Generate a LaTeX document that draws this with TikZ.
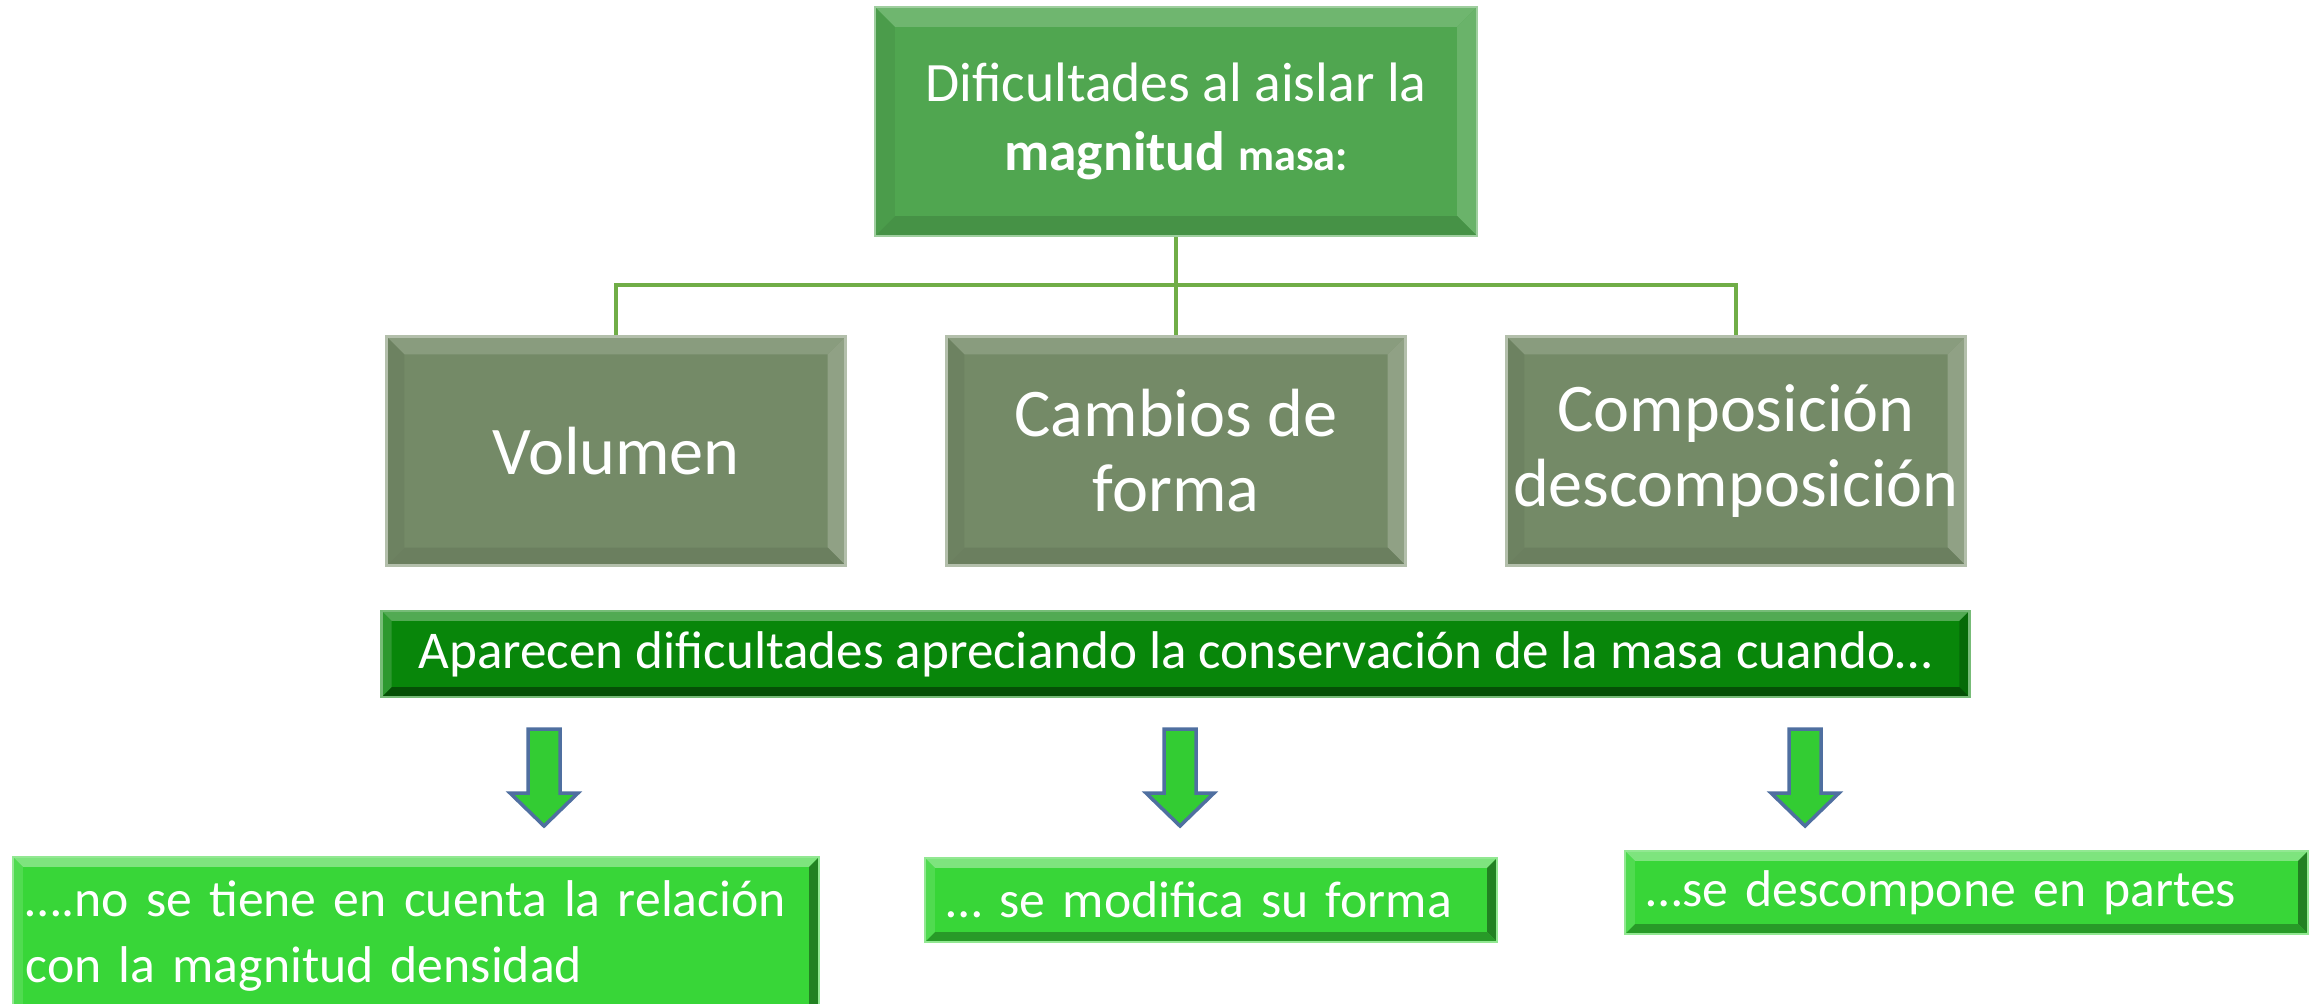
\documentclass[tikz,border=0pt]{standalone}
\usepackage{fontspec}
\setmainfont{Carlito}
\usetikzlibrary{calc,positioning}

\definecolor{topgreen}{RGB}{80,166,80}
\definecolor{midgreen}{RGB}{116,138,103}
\definecolor{bandgreen}{RGB}{8,134,10}
\definecolor{limegreen}{RGB}{56,214,56}
\definecolor{arrowfill}{RGB}{51,204,51}
\definecolor{arrowline}{RGB}{79,111,160}
\definecolor{linkgreen}{RGB}{112,173,71}

\begin{document}
\begin{tikzpicture}[x=0.01cm, y=-0.01cm,
    box/.style={inner sep=0pt, text=white, align=center, fill=#1, draw=#1!55!white, line width=0.7pt},
    % bevelled edges under the text: depth, top, right, bottom, left
    bevel/.style n args={5}{path picture={
      \coordinate (nw) at (path picture bounding box.north west);
      \coordinate (ne) at (path picture bounding box.north east);
      \coordinate (se) at (path picture bounding box.south east);
      \coordinate (sw) at (path picture bounding box.south west);
      \fill[#2] (nw) -- (ne) -- ($(ne)+(-#1,-#1)$) -- ($(nw)+(#1,-#1)$) -- cycle;
      \fill[#3] (ne) -- (se) -- ($(se)+(-#1,#1)$) -- ($(ne)+(-#1,-#1)$) -- cycle;
      \fill[#4] (se) -- (sw) -- ($(sw)+(#1,#1)$) -- ($(se)+(-#1,#1)$) -- cycle;
      \fill[#5] (sw) -- (nw) -- ($(nw)+(#1,-#1)$) -- ($(sw)+(#1,#1)$) -- cycle;}},
    titlebox/.style={box=topgreen, minimum width=6.02cm, minimum height=2.29cm,
      bevel={0.2cm}{topgreen!82!white}{topgreen!85!white}{topgreen!88!black}{topgreen!94!black}},
    branch/.style={box=midgreen, minimum width=4.59cm, minimum height=2.29cm, font=\fontsize{19.4}{21.3}\selectfont,
      bevel={0.18cm}{midgreen!85!white}{midgreen!80!white}{midgreen!92!black}{midgreen!94!black}},
    answer/.style={box=limegreen, align=left, font=\fontsize{14.7}{18.6}\selectfont,
      bevel={0.1cm}{limegreen!65!white}{limegreen!60!black}{limegreen!72!black}{limegreen!88!white}},
    link/.style={linkgreen, line width=1.1pt},
    blockarrow/.style={fill=arrowfill, draw=arrowline, line width=1pt, line join=miter}]
    \clip (0,0) rectangle (2313,1003);

    % title and the three branches
    \node[titlebox, font=\fontsize{15.8}{19.6}\selectfont] (top) at (1176,121.5)
      {Dificultades al aislar la\\ \textbf{magnitud} {\bfseries\fontsize{12.6}{19.6}\selectfont masa:}};
    \node[branch] (vol) at (616,451) {Volumen};
    \node[branch] (camb) at (1176,451) {Cambios de\\ forma};
    \node[branch] (comp) at (1736,451) {Composición\\ descomposición};

    \coordinate (hub) at (1176,285);
    \draw[link] (top.south) -- (hub);
    \draw[link] (vol.north) |- (hub) -| (comp.north);
    \draw[link] (hub) -- (camb.north);

    % banner
    \node[box=bandgreen, minimum width=15.87cm, minimum height=0.86cm, font=\fontsize{15.1}{18}\selectfont,
      bevel={0.1cm}{bandgreen!70!white}{bandgreen!80!black}{bandgreen!60!black}{bandgreen!85!white}] (band) at (1175.5,654)
      {Aparecen dificultades apreciando la conservación de la masa cuando…};

    % answers
    \node[answer, minimum width=8.06cm, minimum height=1.58cm, text width=7.8cm] (r1) at (416,936)
      {….no se tiene en cuenta la relación\\ con la magnitud densidad};
    \node[answer, minimum width=5.72cm, minimum height=0.84cm, text width=5.28cm] (r2) at (1211,900)
      {… se modifica su forma};
    \node[answer, minimum width=6.83cm, minimum height=0.83cm, text width=6.39cm] (r3) at (1966.5,892.5)
      {…se descompone en partes};

    % block arrows
    \coordinate (a1) at (544,729);
    \coordinate (a2) at (1180,729);
    \coordinate (a3) at (1805,729);
    \foreach \a in {a1,a2,a3}
      \draw[blockarrow] ($(\a)+(-16,0)$) -- ++(32,0) -- ++(0,64) -- ++(18,0) -- ++(-34,33) -- ++(-34,-33) -- ++(18,0) -- cycle;
\end{tikzpicture}
\end{document}
